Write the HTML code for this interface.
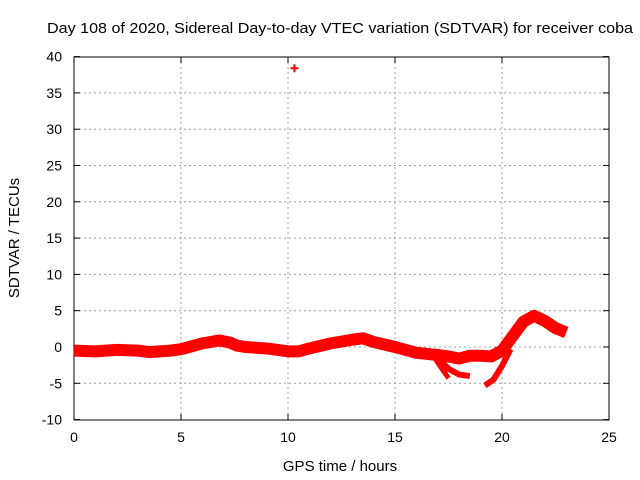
<!DOCTYPE html>
<html><head><meta charset="utf-8"><style>
body{margin:0;background:#fff}
svg{display:block;font-family:"Liberation Sans",sans-serif;font-size:14px}
</style></head><body>
<svg width="640" height="480">
<text x="47" y="33" textLength="586" lengthAdjust="spacingAndGlyphs" style="font-size:15px">Day 108 of 2020, Sidereal Day-to-day VTEC variation (SDTVAR) for receiver coba</text>
<g id="grid"></g><g id="axes"></g><g id="data"></g>
<text x="340" y="471" text-anchor="middle" style="font-size:15px">GPS time / hours</text>
<text transform="translate(19,238) rotate(-90)" text-anchor="middle" style="font-size:15px">SDTVAR / TECUs</text>
</svg>
<script>
const xTicks=[0,5,10,15,20,25];
const yTicks=[-10,-5,0,5,10,15,20,25,30,35,40];
const mainHours=[0,1,2,3,3.5,4.5,5,5.5,6,6.8,7.3,7.6,8,9,10,10.5,11,12,13,13.5,14,15,16,17,17.5,18,18.5,19,19.5,20,20.5,21,21.5,22,22.5,23];
const mainValues=[-0.5,-0.6,-0.4,-0.5,-0.7,-0.5,-0.3,0.1,0.5,0.9,0.6,0.2,0,-0.2,-0.6,-0.6,-0.2,0.5,1,1.2,0.7,0,-0.8,-1.1,-1.3,-1.6,-1.2,-1.2,-1.3,-0.5,1.5,3.5,4.3,3.6,2.6,2];
const branch1Hours=[16.8,17.1,17.5];
const branch1Values=[-1.3,-2.6,-4.3];
const branch2Hours=[17.1,17.5,18,18.5];
const branch2Values=[-1.8,-3.0,-3.8,-4.0];
const branch3Hours=[19.2,19.6,20,20.4];
const branch3Values=[-5.3,-4.5,-2.6,-0.3];
const outlierHours=[10.3];
const outlierValues=[38.4];
const X=h=>74+h*21.4, Y=v=>347-v*7.26;
const NS='http://www.w3.org/2000/svg';
function mk(t,a,p){const e=document.createElementNS(NS,t);for(const k in a)e.setAttribute(k,a[k]);p.appendChild(e);return e;}
const grid=document.getElementById('grid'),axes=document.getElementById('axes'),data=document.getElementById('data');
xTicks.forEach(t=>{
 if(t>0&&t<25){const l=mk('line',{x1:X(t),x2:X(t),y1:57,y2:420,stroke:'#a0a0a0','stroke-dasharray':'2,3'},grid);
 
 }
 const s=mk('text',{x:X(t),y:442,'text-anchor':'middle'},axes);s.textContent=t;
 
 
 mk('line',{x1:X(t),x2:X(t),y1:420,y2:414,stroke:'#000'},axes);
 mk('line',{x1:X(t),x2:X(t),y1:57,y2:63,stroke:'#000'},axes);
});
yTicks.forEach(t=>{
 if(t>-10&&t<40){const l=mk('line',{x1:74,x2:609,y1:Y(t),y2:Y(t),stroke:'#a0a0a0','stroke-dasharray':'2,3'},grid);
 
 }
 const s=mk('text',{x:62,y:Y(t)+5,'text-anchor':'end'},axes);s.textContent=t;
 
 
 mk('line',{x1:74,x2:80,y1:Y(t),y2:Y(t),stroke:'#000'},axes);
 mk('line',{x1:609,x2:603,y1:Y(t),y2:Y(t),stroke:'#000'},axes);
});
const fr=mk('rect',{x:74,y:57,width:535,height:363,fill:'none',stroke:'#000'},axes);


function series(hs,vs,w,name){
 const p=mk('polyline',{points:hs.map((h,i)=>X(h)+','+Y(vs[i])).join(' '),fill:'none',stroke:'#f00','stroke-width':w,'stroke-linejoin':'round','stroke-linecap':'butt'},data);
 
 
}
series(mainHours,mainValues,12,'sdtvar-main-series');
series(branch1Hours,branch1Values,5,'sdtvar-branch-1');
series(branch2Hours,branch2Values,6,'sdtvar-branch-2');
series(branch3Hours,branch3Values,6,'sdtvar-branch-3');
outlierHours.forEach((h,i)=>{
 const p=mk('path',{d:`M${X(h)-4},${Y(outlierValues[i])}h8M${X(h)},${Y(outlierValues[i])-4}v8`,stroke:'#f00','stroke-width':2},data);
 
 
});
</script>
</body></html>
